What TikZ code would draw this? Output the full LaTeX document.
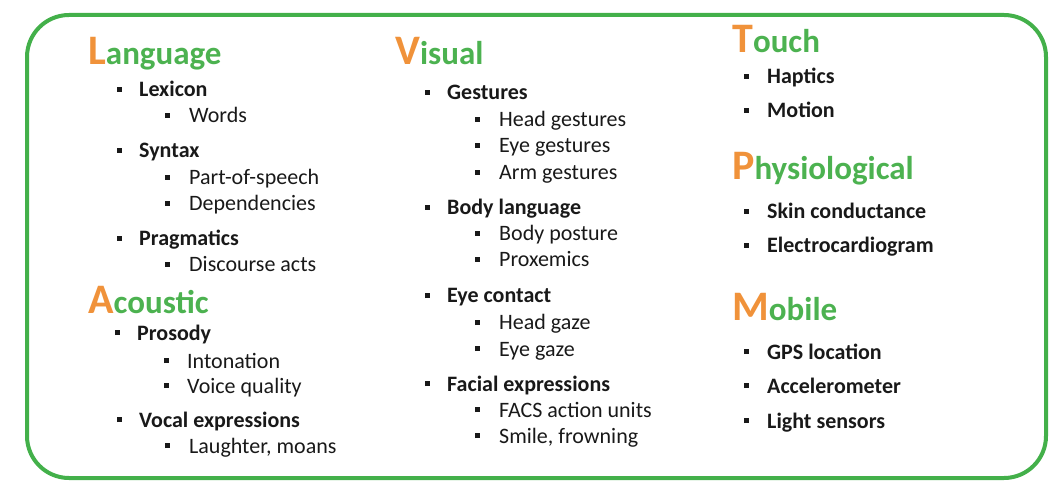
\documentclass[tikz,border=0pt]{standalone}
\usepackage{fontspec}
\setmainfont{Carlito}
\usepackage{tikz}
\usetikzlibrary{positioning}

\definecolor{frameGreen}{RGB}{67,176,74}
\definecolor{headGreen}{RGB}{76,178,80}
\definecolor{headOrange}{RGB}{240,146,58}
\definecolor{textDark}{RGB}{25,25,25}

\newcommand{\sqbul}{\rule[5pt]{5pt}{5pt}}
\newcommand{\headtxt}[2]{{\fontsize{42}{44}\selectfont\color{headOrange}#1}{\fontsize{33}{36}\selectfont\color{headGreen}#2}}

\tikzset{
  head/.style={anchor=base west, inner sep=0pt, font=\bfseries},
  mainitem/.style={anchor=base west, inner sep=0pt, text=textDark,
    font=\fontsize{22}{24}\selectfont\bfseries},
  subitem/.style={anchor=base west, inner sep=0pt, text=textDark,
    font=\fontsize{22}{24}\selectfont},
}

\begin{document}
\begin{tikzpicture}[x=1pt, y=-1pt]
\useasboundingbox (0,0) rectangle (1060,494);
\draw[frameGreen, line width=4pt, rounded corners=42pt] (27,15) rectangle (1046,478);

% Language
\node[head] (language) at (88,65) {\headtxt{L}{anguage}};
\node[mainitem] (lexicon) at (117,97) {\sqbul\hspace{17pt}Lexicon};
\node[subitem] (words) at (165,123) {\sqbul\hspace{19pt}Words};
\node[mainitem] (syntax) at (117,158) {\sqbul\hspace{17pt}Syntax};
\node[subitem] (pos) at (165,185) {\sqbul\hspace{19pt}Part-of-speech};
\node[subitem] (deps) at (165,211) {\sqbul\hspace{19pt}Dependencies};
\node[mainitem] (pragmatics) at (117,246) {\sqbul\hspace{17pt}Pragmatics};
\node[subitem] (discourse) at (165,272) {\sqbul\hspace{19pt}Discourse acts};

% Acoustic
\node[head] (acoustic) at (88,313) {\headtxt{A}{coustic}};
\node[mainitem] (prosody) at (115,340) {\sqbul\hspace{17pt}Prosody};
\node[subitem] (intonation) at (164,368) {\sqbul\hspace{18pt}Intonation};
\node[subitem] (voice) at (164,393) {\sqbul\hspace{18pt}Voice quality};
\node[mainitem] (vocal) at (117,427) {\sqbul\hspace{17pt}Vocal expressions};
\node[subitem] (laughter) at (165,453) {\sqbul\hspace{19pt}Laughter, moans};

% Visual
\node[head] (visual) at (395,65) {\headtxt{V}{isual}};
\node[mainitem] (gestures) at (425,100) {\sqbul\hspace{17pt}Gestures};
\node[subitem] (headgest) at (475,127) {\sqbul\hspace{19pt}Head gestures};
\node[subitem] (eyegest) at (475,153) {\sqbul\hspace{19pt}Eye gestures};
\node[subitem] (armgest) at (475,180) {\sqbul\hspace{19pt}Arm gestures};
\node[mainitem] (bodylang) at (425,215) {\sqbul\hspace{17pt}Body language};
\node[subitem] (posture) at (475,241) {\sqbul\hspace{19pt}Body posture};
\node[subitem] (proxemics) at (475,267) {\sqbul\hspace{19pt}Proxemics};
\node[mainitem] (eyecontact) at (425,303) {\sqbul\hspace{17pt}Eye contact};
\node[subitem] (headgaze) at (475,330) {\sqbul\hspace{19pt}Head gaze};
\node[subitem] (eyegaze) at (475,356) {\sqbul\hspace{19pt}Eye gaze};
\node[mainitem] (facial) at (425,391) {\sqbul\hspace{17pt}Facial expressions};
\node[subitem] (facs) at (475,417) {\sqbul\hspace{19pt}FACS action units};
\node[subitem] (smile) at (475,443) {\sqbul\hspace{19pt}Smile, frowning};

% Touch
\node[head] (touch) at (732,53) {\headtxt{T}{ouch}};
\node[mainitem] (haptics) at (744,84) {\sqbul\hspace{18pt}Haptics};
\node[mainitem] (motion) at (744,118) {\sqbul\hspace{18pt}Motion};

% Physiological
\node[head] (physio) at (732,180) {\headtxt{P}{hysiological}};
\node[mainitem] (skin) at (744,219) {\sqbul\hspace{18pt}Skin conductance};
\node[mainitem] (ecg) at (744,253) {\sqbul\hspace{18pt}Electrocardiogram};

% Mobile
\node[head] (mobile) at (732,320) {\headtxt{M}{obile}};
\node[mainitem] (gps) at (744,359) {\sqbul\hspace{18pt}GPS location};
\node[mainitem] (accel) at (744,393) {\sqbul\hspace{18pt}Accelerometer};
\node[mainitem] (light) at (744,428) {\sqbul\hspace{18pt}Light sensors};
\end{tikzpicture}
\end{document}
